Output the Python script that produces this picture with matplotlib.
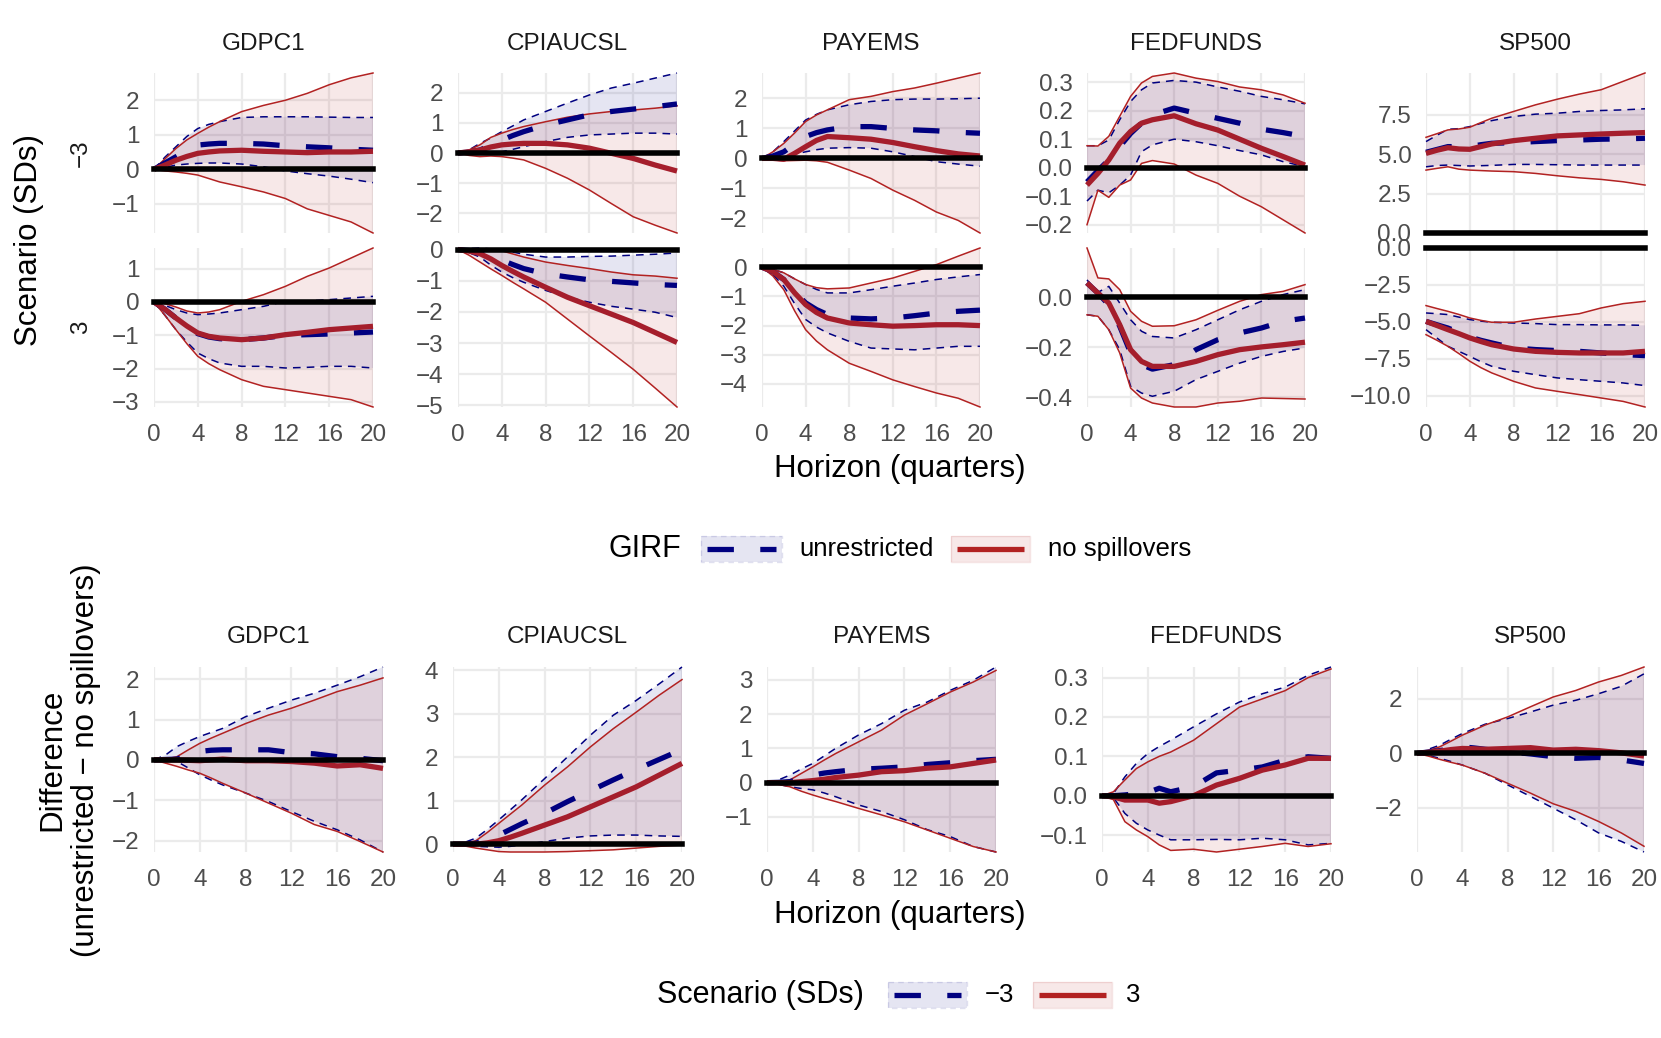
import matplotlib
matplotlib.use("Agg")
import matplotlib.pyplot as plt
from matplotlib.patches import Rectangle

plt.rcParams['font.family'] = ['Liberation Sans', 'DejaVu Sans']

# ---------------- data ----------------
horizon = [0, 1, 2, 3, 4, 5, 6, 8, 10, 12, 14, 16, 18, 20]
variables = ["GDPC1", "CPIAUCSL", "PAYEMS", "FEDFUNDS", "SP500"]
scenario_labels = ["\u22123", "3"]
model_labels = ["unrestricted", "no spillovers"]

# GIRF bands, each [lower, median, upper]; neg = scenario -3, pos = scenario 3
# unr = unrestricted, nos = no spillovers
gdpc1_neg_unr = [[0, 0.05, 0.12, 0.15, 0.17, 0.18, 0.18, 0.15, 0.07, -0.05, -0.13, -0.2, -0.29, -0.39],
                 [0, 0.18, 0.36, 0.55, 0.7, 0.73, 0.75, 0.75, 0.73, 0.68, 0.65, 0.62, 0.58, 0.55],
                 [0, 0.35, 0.65, 0.95, 1.18, 1.3, 1.38, 1.5, 1.52, 1.52, 1.52, 1.51, 1.5, 1.5]]
gdpc1_neg_nos = [[0, -0.05, -0.08, -0.12, -0.17, -0.27, -0.37, -0.51, -0.66, -0.85, -1.15, -1.34, -1.53, -1.85],
                 [0, 0.12, 0.26, 0.37, 0.46, 0.5, 0.53, 0.55, 0.52, 0.5, 0.48, 0.5, 0.5, 0.52],
                 [0, 0.3, 0.6, 0.85, 1.04, 1.22, 1.38, 1.67, 1.85, 2.0, 2.2, 2.45, 2.65, 2.79]]
gdpc1_pos_unr = [[0, -0.4, -0.83, -1.2, -1.53, -1.7, -1.83, -1.93, -1.93, -1.98, -1.96, -1.93, -1.93, -1.98],
                 [0, -0.22, -0.48, -0.72, -0.95, -1.05, -1.1, -1.13, -1.08, -1.0, -0.98, -0.96, -0.93, -0.9],
                 [0, -0.1, -0.23, -0.33, -0.38, -0.36, -0.33, -0.23, -0.13, 0.02, 0.03, 0.07, 0.12, 0.17]]
gdpc1_pos_nos = [[0, -0.4, -0.83, -1.25, -1.63, -1.85, -2.03, -2.33, -2.53, -2.63, -2.73, -2.83, -2.93, -3.15],
                 [0, -0.22, -0.48, -0.72, -0.93, -1.03, -1.08, -1.13, -1.08, -0.98, -0.91, -0.83, -0.78, -0.73],
                 [0, -0.05, -0.15, -0.27, -0.33, -0.3, -0.23, 0.02, 0.22, 0.47, 0.77, 1.02, 1.32, 1.62]]

cpi_neg_unr = [[0, 0.01, 0.02, 0.03, 0.04, 0.12, 0.21, 0.38, 0.52, 0.6, 0.63, 0.66, 0.66, 0.63],
               [0, 0.03, 0.1, 0.25, 0.43, 0.58, 0.71, 0.93, 1.1, 1.27, 1.38, 1.46, 1.54, 1.63],
               [0, 0.1, 0.32, 0.5, 0.71, 0.9, 1.1, 1.38, 1.66, 1.93, 2.16, 2.32, 2.49, 2.66]]
cpi_neg_nos = [[0, -0.08, -0.12, -0.1, -0.12, -0.17, -0.23, -0.51, -0.84, -1.23, -1.68, -2.12, -2.4, -2.66],
               [0, 0.04, 0.1, 0.2, 0.27, 0.3, 0.32, 0.32, 0.27, 0.16, -0.01, -0.18, -0.4, -0.6],
               [0, 0.1, 0.27, 0.52, 0.66, 0.78, 0.88, 1.04, 1.19, 1.3, 1.38, 1.43, 1.49, 1.57]]
cpi_pos_unr = [[0, -0.1, -0.24, -0.5, -0.72, -0.9, -1.05, -1.31, -1.53, -1.69, -1.82, -1.91, -2.01, -2.18],
               [0, -0.03, -0.08, -0.2, -0.34, -0.48, -0.61, -0.78, -0.88, -0.97, -1.02, -1.07, -1.12, -1.15],
               [0, 0.03, 0.05, 0.02, -0.02, -0.08, -0.15, -0.24, -0.24, -0.22, -0.21, -0.18, -0.15, -0.11]]
cpi_pos_nos = [[0, -0.18, -0.4, -0.62, -0.83, -1.05, -1.26, -1.69, -2.23, -2.77, -3.3, -3.84, -4.44, -5.05],
               [0, -0.05, -0.13, -0.3, -0.51, -0.7, -0.88, -1.21, -1.53, -1.8, -2.07, -2.34, -2.66, -2.98],
               [0, 0.01, 0.01, -0.01, -0.04, -0.14, -0.24, -0.4, -0.51, -0.61, -0.72, -0.81, -0.85, -0.92]]

payems_neg_unr = [[0, 0.02, 0.06, 0.14, 0.22, 0.29, 0.34, 0.36, 0.34, 0.22, 0.06, -0.11, -0.19, -0.26],
                  [0, 0.08, 0.22, 0.48, 0.73, 0.86, 0.95, 1.06, 1.06, 1.0, 0.95, 0.92, 0.87, 0.84],
                  [0, 0.22, 0.56, 0.92, 1.28, 1.47, 1.62, 1.79, 1.9, 1.96, 1.98, 1.98, 1.99, 2.01]]
payems_neg_nos = [[0, -0.05, -0.08, -0.07, -0.06, -0.08, -0.13, -0.39, -0.67, -1.06, -1.4, -1.79, -2.07, -2.49],
                  [0, 0.0, -0.03, 0.17, 0.39, 0.6, 0.73, 0.69, 0.64, 0.53, 0.39, 0.26, 0.15, 0.08],
                  [0, 0.22, 0.5, 0.85, 1.23, 1.45, 1.62, 1.96, 2.07, 2.23, 2.35, 2.51, 2.68, 2.85]]
payems_pos_unr = [[0, -0.25, -0.65, -1.25, -1.79, -2.05, -2.25, -2.54, -2.77, -2.8, -2.83, -2.77, -2.71, -2.71],
                  [0, -0.15, -0.42, -0.85, -1.22, -1.45, -1.62, -1.74, -1.77, -1.74, -1.66, -1.57, -1.51, -1.47],
                  [0, -0.07, -0.19, -0.4, -0.59, -0.76, -0.88, -0.88, -0.77, -0.65, -0.54, -0.42, -0.33, -0.25]]
payems_pos_nos = [[0, -0.3, -0.77, -1.5, -2.14, -2.53, -2.83, -3.29, -3.57, -3.86, -4.09, -4.31, -4.49, -4.79],
                  [0, -0.15, -0.42, -0.88, -1.28, -1.55, -1.74, -1.91, -1.97, -2.02, -2.0, -1.97, -1.97, -2.0],
                  [0, -0.07, -0.19, -0.4, -0.59, -0.7, -0.74, -0.71, -0.54, -0.37, -0.14, 0.09, 0.38, 0.66]]

fedfunds_neg_unr = [[-0.117, -0.079, -0.088, -0.061, -0.026, 0.056, 0.08, 0.1, 0.091, 0.077, 0.06, 0.045, 0.021, 0.004],
                    [-0.05, -0.01, 0.027, 0.074, 0.12, 0.156, 0.185, 0.209, 0.191, 0.173, 0.156, 0.135, 0.123, 0.109],
                    [0.077, 0.077, 0.097, 0.168, 0.232, 0.273, 0.297, 0.306, 0.3, 0.283, 0.268, 0.25, 0.238, 0.224]]
fedfunds_neg_nos = [[-0.2, -0.079, -0.104, -0.061, -0.043, 0.015, 0.025, 0.013, -0.026, -0.055, -0.1, -0.137, -0.183, -0.229],
                    [-0.061, -0.02, 0.027, 0.086, 0.127, 0.156, 0.168, 0.182, 0.154, 0.132, 0.1, 0.068, 0.039, 0.009],
                    [0.077, 0.076, 0.11, 0.18, 0.25, 0.297, 0.32, 0.332, 0.314, 0.302, 0.283, 0.273, 0.255, 0.226]]
fedfunds_pos_unr = [[-0.07, -0.076, -0.13, -0.21, -0.357, -0.384, -0.397, -0.377, -0.33, -0.297, -0.264, -0.237, -0.217, -0.203],
                    [0.058, 0.017, -0.03, -0.116, -0.223, -0.27, -0.288, -0.27, -0.21, -0.17, -0.143, -0.123, -0.096, -0.083],
                    [0.07, 0.02, 0.044, -0.023, -0.09, -0.136, -0.157, -0.163, -0.13, -0.09, -0.05, -0.016, 0.011, 0.031]]
fedfunds_pos_nos = [[-0.07, -0.076, -0.13, -0.223, -0.364, -0.404, -0.424, -0.44, -0.44, -0.424, -0.417, -0.404, -0.406, -0.408],
                    [0.058, 0.017, -0.023, -0.11, -0.21, -0.257, -0.277, -0.277, -0.257, -0.23, -0.21, -0.199, -0.19, -0.18],
                    [0.198, 0.078, 0.074, 0.031, -0.056, -0.096, -0.116, -0.114, -0.09, -0.052, -0.016, 0.011, 0.024, 0.051]]

sp500_neg_unr = [[4.2, 4.28, 4.31, 4.28, 4.25, 4.27, 4.29, 4.35, 4.35, 4.33, 4.31, 4.31, 4.31, 4.31],
                 [5.12, 5.3, 5.48, 5.48, 5.48, 5.6, 5.69, 5.73, 5.8, 5.86, 5.9, 5.95, 5.97, 6.01],
                 [5.8, 6.2, 6.58, 6.62, 6.75, 6.95, 7.13, 7.39, 7.54, 7.6, 7.71, 7.77, 7.81, 7.88]]
sp500_neg_nos = [[3.99, 4.1, 4.2, 4.05, 3.99, 3.96, 3.93, 3.89, 3.78, 3.63, 3.5, 3.4, 3.25, 3.04],
                 [5.05, 5.25, 5.41, 5.33, 5.31, 5.48, 5.65, 5.86, 6.01, 6.16, 6.22, 6.28, 6.33, 6.37],
                 [6.07, 6.3, 6.54, 6.6, 6.71, 7.0, 7.28, 7.71, 8.13, 8.49, 8.81, 9.09, 9.62, 10.15]]
sp500_pos_unr = [[-5.53, -6.1, -6.66, -7.0, -7.34, -7.7, -8.01, -8.35, -8.58, -8.8, -8.92, -9.03, -9.14, -9.32],
                 [-4.97, -5.2, -5.42, -5.72, -6.03, -6.25, -6.43, -6.77, -6.88, -6.95, -7.0, -7.11, -7.22, -7.29],
                 [-4.4, -4.45, -4.51, -4.68, -4.85, -4.95, -5.03, -5.08, -5.12, -5.19, -5.19, -5.21, -5.21, -5.24]]
sp500_pos_nos = [[-5.87, -6.25, -6.66, -7.15, -7.67, -8.1, -8.46, -9.03, -9.48, -9.71, -9.93, -10.16, -10.39, -10.77],
                 [-4.97, -5.25, -5.53, -5.8, -6.09, -6.33, -6.55, -6.84, -7.0, -7.07, -7.11, -7.11, -7.11, -7.0],
                 [-3.9, -4.1, -4.29, -4.5, -4.74, -4.9, -5.03, -5.03, -4.81, -4.63, -4.45, -4.06, -3.77, -3.61]]

# Differences (unrestricted - no spillovers), [lower, median, upper]
gdpc1_diff_neg = [[0, -0.01, -0.04, -0.2, -0.37, -0.5, -0.62, -0.82, -1.03, -1.28, -1.52, -1.73, -1.98, -2.28],
                  [0, 0.01, 0.02, 0.12, 0.21, 0.24, 0.25, 0.25, 0.25, 0.18, 0.15, 0.08, 0.04, -0.02],
                  [0, 0.12, 0.33, 0.46, 0.58, 0.68, 0.78, 1.07, 1.28, 1.48, 1.65, 1.85, 2.06, 2.3]]
gdpc1_diff_pos = [[0, -0.08, -0.16, -0.25, -0.33, -0.45, -0.58, -0.82, -1.07, -1.32, -1.6, -1.77, -2.02, -2.28],
                  [0, 0.0, 0.0, -0.01, -0.02, 0.0, 0.02, -0.02, -0.02, -0.04, -0.08, -0.15, -0.12, -0.21],
                  [0, 0.02, 0.08, 0.25, 0.41, 0.54, 0.66, 0.9, 1.11, 1.28, 1.48, 1.69, 1.85, 2.03]]
cpi_diff_neg = [[0, -0.02, -0.05, -0.06, -0.07, -0.05, -0.02, 0.06, 0.14, 0.19, 0.21, 0.21, 0.19, 0.18],
                [0, 0.0, 0.02, 0.1, 0.21, 0.34, 0.47, 0.71, 0.98, 1.23, 1.48, 1.72, 1.95, 2.18],
                [0, 0.04, 0.14, 0.34, 0.56, 0.79, 1.02, 1.51, 2.01, 2.51, 2.97, 3.31, 3.69, 4.08]]
cpi_diff_pos = [[0, -0.04, -0.09, -0.13, -0.17, -0.18, -0.18, -0.18, -0.17, -0.15, -0.13, -0.09, -0.05, -0.02],
                [0, 0.0, 0.0, 0.03, 0.08, 0.16, 0.25, 0.44, 0.63, 0.86, 1.09, 1.32, 1.59, 1.86],
                [0, 0.02, 0.08, 0.27, 0.48, 0.69, 0.9, 1.36, 1.78, 2.24, 2.66, 3.04, 3.43, 3.79]]
payems_diff_neg = [[0, -0.05, -0.12, -0.17, -0.21, -0.3, -0.41, -0.65, -0.84, -1.08, -1.37, -1.57, -1.86, -2.02],
                   [0, 0.01, 0.03, 0.12, 0.22, 0.28, 0.32, 0.39, 0.42, 0.46, 0.53, 0.58, 0.64, 0.68],
                   [0, 0.08, 0.22, 0.4, 0.56, 0.78, 1.0, 1.39, 1.72, 2.11, 2.35, 2.69, 2.98, 3.37]]
payems_diff_pos = [[0, -0.05, -0.12, -0.25, -0.36, -0.46, -0.55, -0.75, -0.94, -1.14, -1.38, -1.62, -1.86, -2.02],
                   [0, 0.0, 0.0, 0.03, 0.06, 0.1, 0.15, 0.22, 0.32, 0.35, 0.42, 0.46, 0.56, 0.66],
                   [0, 0.02, 0.08, 0.27, 0.46, 0.66, 0.85, 1.19, 1.53, 1.97, 2.3, 2.64, 2.93, 3.27]]
fedfunds_diff_neg = [[0, -0.005, -0.045, -0.07, -0.087, -0.1, -0.112, -0.112, -0.111, -0.112, -0.108, -0.112, -0.125, -0.121],
                     [0, 0.0, 0.002, 0.005, 0.008, 0.019, 0.01, 0.023, 0.058, 0.065, 0.073, 0.09, 0.099, 0.095],
                     [0, 0.006, 0.048, 0.082, 0.107, 0.125, 0.141, 0.175, 0.208, 0.238, 0.259, 0.276, 0.306, 0.327]]
fedfunds_diff_pos = [[0, -0.01, -0.066, -0.087, -0.104, -0.125, -0.139, -0.136, -0.143, -0.136, -0.129, -0.121, -0.129, -0.122],
                     [0, -0.003, -0.011, -0.011, -0.011, -0.019, -0.015, 0.0, 0.027, 0.044, 0.065, 0.078, 0.095, 0.095],
                     [0, 0.01, 0.04, 0.069, 0.086, 0.1, 0.111, 0.141, 0.183, 0.225, 0.246, 0.267, 0.3, 0.322]]
sp500_diff_neg = [[0, -0.08, -0.18, -0.3, -0.43, -0.58, -0.73, -1.16, -1.58, -2.01, -2.44, -2.92, -3.23, -3.62],
                  [0, 0.05, 0.1, 0.18, 0.24, 0.2, 0.15, 0.06, -0.02, -0.12, -0.18, -0.15, -0.24, -0.37],
                  [0, 0.15, 0.3, 0.52, 0.73, 0.9, 1.07, 1.28, 1.52, 1.77, 1.95, 2.19, 2.46, 2.92]]
sp500_diff_pos = [[0, -0.1, -0.22, -0.33, -0.43, -0.58, -0.73, -1.1, -1.46, -1.85, -2.13, -2.5, -2.92, -3.41],
                  [0, 0.04, 0.08, 0.14, 0.18, 0.17, 0.15, 0.18, 0.21, 0.12, 0.15, 0.1, 0.02, -0.1],
                  [0, 0.1, 0.24, 0.45, 0.67, 0.85, 1.04, 1.34, 1.71, 2.07, 2.31, 2.62, 2.86, 3.17]]

# y tick breaks per panel
neg_row_ticks = [[-1, 0, 1, 2], [-2, -1, 0, 1, 2], [-2, -1, 0, 1, 2], [-0.2, -0.1, 0.0, 0.1, 0.2, 0.3], [0.0, 2.5, 5.0, 7.5]]
pos_row_ticks = [[-3, -2, -1, 0, 1], [-5, -4, -3, -2, -1, 0], [-4, -3, -2, -1, 0], [-0.4, -0.2, 0.0], [-10.0, -7.5, -5.0, -2.5, 0.0]]
diff_ticks = [[-2, -1, 0, 1, 2], [0, 1, 2, 3, 4], [-1, 0, 1, 2, 3], [-0.1, 0.0, 0.1, 0.2, 0.3], [-2, 0, 2]]
tick_decimals = [0, 0, 0, 1, 1]
diff_decimals = [0, 0, 0, 1, 0]
x_ticks = [0, 4, 8, 12, 16, 20]

girf_neg = [(gdpc1_neg_unr, gdpc1_neg_nos), (cpi_neg_unr, cpi_neg_nos), (payems_neg_unr, payems_neg_nos),
            (fedfunds_neg_unr, fedfunds_neg_nos), (sp500_neg_unr, sp500_neg_nos)]
girf_pos = [(gdpc1_pos_unr, gdpc1_pos_nos), (cpi_pos_unr, cpi_pos_nos), (payems_pos_unr, payems_pos_nos),
            (fedfunds_pos_unr, fedfunds_pos_nos), (sp500_pos_unr, sp500_pos_nos)]
diffs = [(gdpc1_diff_neg, gdpc1_diff_pos), (cpi_diff_neg, cpi_diff_pos), (payems_diff_neg, payems_diff_pos),
         (fedfunds_diff_neg, fedfunds_diff_pos), (sp500_diff_neg, sp500_diff_pos)]

# ---------------- style ----------------
NAVY = "#000080"
RED = "#B22222"
RED_MED = "#A51E2C"
GRID = "#EBEBEB"
TICKC = "#4D4D4D"
STRIPC = "#1A1A1A"
FS_TICK = 17.5
FS_STRIP = 17.5
FS_TITLE = 22.5
FS_LEG = 18.5

W, H = 1661, 1038
fig = plt.figure(figsize=(W / 100, H / 100), dpi=100)


def add_ax(x0, x1, y0, y1):
    return fig.add_axes([x0 / W, 1 - y1 / H, (x1 - x0) / W, (y1 - y0) / H])


def fmt(v, dec):
    s = f"{v:.{dec}f}"
    return s.replace("-", "\u2212")


def draw_panel(ax, bands, ticks, dec, show_x):
    # bands: list of (data, colour, dashed, median colour)
    for data, col, dashed, mcol in bands:
        ax.fill_between(horizon, data[0], data[2], facecolor=col, alpha=0.1, lw=0, zorder=2)
    for data, col, dashed, mcol in bands:
        for k in (0, 2):
            ln, = ax.plot(horizon, data[k], color=col, lw=1.1, zorder=3, clip_on=False,
                          solid_joinstyle='round')
            if dashed:
                ln.set_dashes([5, 4])
    for data, col, dashed, mcol in bands:
        ln, = ax.plot(horizon, data[1], color=mcol, lw=3.8, zorder=4, clip_on=False,
                      solid_joinstyle='round', solid_capstyle='butt')
        if dashed:
            ln.set_dashes([5, 5])
    ax.axhline(0, color="black", lw=4.0, zorder=6, clip_on=False)
    allv = [v for d, _, _, _ in bands for row in d for v in row] + [0]
    ax.set_ylim(min(allv), max(allv))
    ax.set_xlim(0, 20)
    ax.set_xticks(x_ticks)
    ax.set_yticks(ticks)
    ax.set_yticklabels([fmt(t, dec) for t in ticks])
    if show_x:
        ax.set_xticklabels([str(t) for t in x_ticks])
    else:
        ax.set_xticklabels([])
    ax.grid(True, color=GRID, lw=1.6, zorder=0)
    ax.set_axisbelow(True)
    for s in ax.spines.values():
        s.set_visible(False)
    ax.set_facecolor("none")
    ax.tick_params(axis="both", length=0, labelsize=FS_TICK, labelcolor=TICKC)
    ax.tick_params(axis="y", pad=10.5)
    ax.tick_params(axis="x", pad=12)


# ---------------- top block ----------------
top_x = [(154, 373), (458, 677), (762, 980), (1087, 1305), (1426, 1645)]
top_rows_y = [(73, 233), (248, 407)]

for j, var in enumerate(variables):
    x0, x1 = top_x[j]
    # scenario -3
    ax = add_ax(x0, x1, *top_rows_y[0])
    unr, nos = girf_neg[j]
    draw_panel(ax, [(unr, NAVY, True, NAVY), (nos, RED, False, RED_MED)],
               neg_row_ticks[j], tick_decimals[j], False)
    # scenario 3
    ax = add_ax(x0, x1, *top_rows_y[1])
    unr, nos = girf_pos[j]
    draw_panel(ax, [(unr, NAVY, True, NAVY), (nos, RED, False, RED_MED)],
               pos_row_ticks[j], tick_decimals[j], True)

# ---------------- bottom block ----------------
bot_x = [(154, 383), (453, 682), (767, 996), (1102, 1331), (1417, 1644)]
bot_y = (667, 852)
for j, var in enumerate(variables):
    x0, x1 = bot_x[j]
    ax = add_ax(x0, x1, *bot_y)
    dneg, dpos = diffs[j]
    draw_panel(ax, [(dneg, NAVY, True, NAVY), (dpos, RED, False, RED_MED)],
               diff_ticks[j], diff_decimals[j], True)

# ---------------- overlay: titles, strips, legends ----------------
lax = fig.add_axes([0, 0, 1, 1])
lax.set_xlim(0, W)
lax.set_ylim(H, 0)
lax.axis("off")
lax.set_facecolor("none")

for j, var in enumerate(variables):
    cx = (top_x[j][0] + top_x[j][1]) / 2
    lax.text(cx, 44, var, ha="center", va="center", fontsize=FS_STRIP, color=STRIPC)
    cx = (bot_x[j][0] + bot_x[j][1]) / 2
    lax.text(cx, 637, var, ha="center", va="center", fontsize=FS_STRIP, color=STRIPC)

for i, lab in enumerate(scenario_labels):
    cy = (top_rows_y[i][0] + top_rows_y[i][1]) / 2
    lax.text(81, cy, lab, rotation=90, ha="center", va="center", fontsize=FS_STRIP, color=STRIPC)

lax.text(29, 240, "Scenario (SDs)", rotation=90, ha="center", va="center", fontsize=FS_TITLE)
lax.text(69, 760, "Difference\n(unrestricted \u2212 no spillovers)", rotation=90,
         ha="center", va="center", fontsize=FS_TITLE, linespacing=1.15, multialignment="center")
lax.text(900, 469, "Horizon (quarters)", ha="center", va="center", fontsize=FS_TITLE)
lax.text(900, 915, "Horizon (quarters)", ha="center", va="center", fontsize=FS_TITLE)


def legend_key(x0, x1, cy, col, dashed, mcol):
    hgt = 26
    lax.add_patch(Rectangle((x0, cy - hgt / 2), x1 - x0, hgt, facecolor=col, alpha=0.1,
                            edgecolor="none"))
    lax.add_patch(Rectangle((x0, cy - hgt / 2), x1 - x0, hgt, facecolor="none",
                            edgecolor=col, alpha=0.12, lw=1.0,
                            linestyle=(0, (4, 3)) if dashed else "-"))
    ln, = lax.plot([x0 + 6, x1 - 6], [cy, cy], color=mcol, lw=3.8, solid_capstyle="butt")
    if dashed:
        ln.set_dashes([5, 5])


# GIRF legend
ly = 549
lax.text(609, ly, "GIRF", ha="left", va="center", fontsize=22)
legend_key(701, 782, ly, NAVY, True, NAVY)
lax.text(799, ly, model_labels[0], ha="left", va="center", fontsize=FS_LEG)
legend_key(951, 1030, ly, RED, False, RED)
lax.text(1048, ly, model_labels[1], ha="left", va="center", fontsize=FS_LEG)

# Scenario legend
ly = 995
lax.text(657, ly, "Scenario (SDs)", ha="left", va="center", fontsize=22)
legend_key(888, 967, ly, NAVY, True, NAVY)
lax.text(985, ly, scenario_labels[0], ha="left", va="center", fontsize=FS_LEG)
legend_key(1033, 1112, ly, RED, False, RED)
lax.text(1126, ly, scenario_labels[1], ha="left", va="center", fontsize=FS_LEG)

fig.savefig("out.png", dpi=100)
